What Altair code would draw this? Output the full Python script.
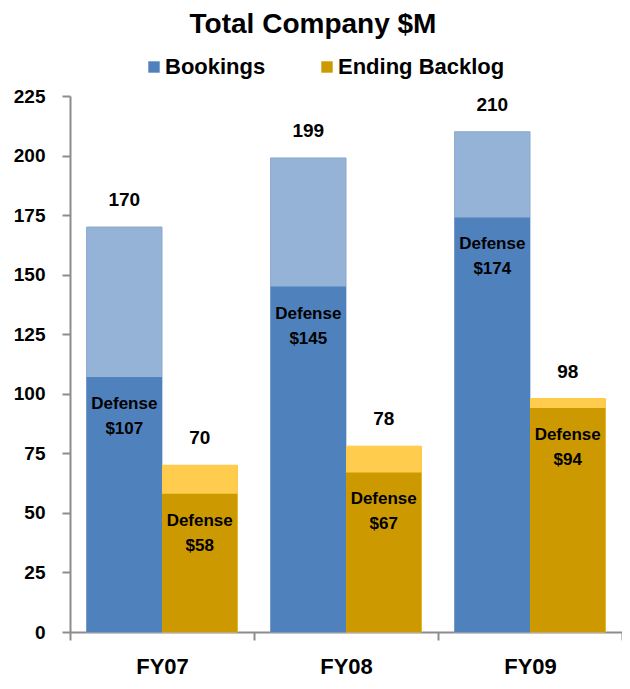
import altair as alt
import pandas as pd

years = ["FY07", "FY08", "FY09"]
series = ["Bookings", "Ending Backlog"]
bookings_total = [170, 199, 210]
bookings_defense = [107, 145, 174]
backlog_total = [70, 78, 98]
backlog_defense = [58, 67, 94]

rows = []
for i, y in enumerate(years):
    rows.append({"year": y, "series": "Bookings", "total": bookings_total[i],
                 "defense": bookings_defense[i]})
    rows.append({"year": y, "series": "Ending Backlog", "total": backlog_total[i],
                 "defense": backlog_defense[i]})
df = pd.DataFrame(rows)
df["dlabel"] = "$" + df["defense"].astype(str)
df["word"] = "Defense"

FONT = "Liberation Sans"

x_enc = alt.X("year:N", sort=years, title=None,
              scale=alt.Scale(paddingInner=0, paddingOuter=0),
              axis=alt.Axis(tickBand="extent", labelAngle=0, labelFontSize=22,
                            labelFontWeight="bold", labelColor="black",
                            labelFont=FONT, labelPadding=16, tickSize=8,
                            domainColor="#8c8c8c", tickColor="#8c8c8c",
                            domainWidth=2, tickWidth=2, grid=False))
xo_enc = alt.XOffset("series:N", sort=series,
                     scale=alt.Scale(paddingInner=0, paddingOuter=0.22))
y_scale = alt.Scale(domain=[0, 225], nice=False)

base = alt.Chart(df).encode(x=x_enc, xOffset=xo_enc)

light = base.mark_bar(strokeWidth=1).encode(
    y=alt.Y("total:Q", scale=y_scale, title=None,
            axis=alt.Axis(values=list(range(0, 226, 25)), labelFontSize=19,
                          labelFontWeight="bold", labelColor="black",
                          labelFont=FONT, labelPadding=17, tickSize=8,
                          domainColor="#8c8c8c", tickColor="#8c8c8c",
                          domainWidth=2, tickWidth=2, grid=False)),
    color=alt.Color("series:N", sort=series,
                    scale=alt.Scale(domain=series, range=["#95B3D7", "#FFCC4D"]),
                    legend=None),
    stroke=alt.Stroke("series:N", sort=series,
                      scale=alt.Scale(domain=series, range=["#8AA8D0", "#FFC843"]),
                      legend=None),
)

dark = base.mark_bar().encode(
    y=alt.Y("defense:Q", scale=y_scale),
    color=alt.Color("series:N", sort=series,
                    scale=alt.Scale(domain=series, range=["#4F81BD", "#CC9900"]),
                    legend=alt.Legend(title=None, orient="none", direction="horizontal",
                                      legendX=73, legendY=-40, symbolType="square",
                                      symbolSize=130, symbolStrokeWidth=0,
                                      labelFontSize=22, labelFontWeight="bold",
                                      labelFont=FONT, labelColor="black",
                                      labelLimit=400,
                                      labelOffset=0, columnPadding=50, padding=0)),
)

tot_txt = base.mark_text(dy=-27, baseline="middle", fontSize=19, fontWeight="bold",
                         font=FONT, color="black").encode(
    y=alt.Y("total:Q", scale=y_scale), text="total:Q")

word_txt = base.mark_text(dy=27, baseline="middle", fontSize=17, fontWeight="bold",
                          font=FONT, color="black").encode(
    y=alt.Y("defense:Q", scale=y_scale), text="word:N")

val_txt = base.mark_text(dy=52, baseline="middle", fontSize=17, fontWeight="bold",
                         font=FONT, color="black").encode(
    y=alt.Y("defense:Q", scale=y_scale), text="dlabel:N")

chart = alt.layer(light, dark, tot_txt, word_txt, val_txt).resolve_scale(
    color="independent"
).properties(
    width=552, height=536,
    autosize=alt.AutoSizeParams(type="none"),
    padding={"left": 62, "top": 88, "right": 0, "bottom": 49},
    title=alt.Title("Total Company $M", fontSize=28, font=FONT, fontWeight="bold",
                    color="black", anchor="middle", offset=17, dx=-33),
).configure_view(stroke=None)

chart.save("out.html", embed_options={"renderer": "svg", "actions": False})
